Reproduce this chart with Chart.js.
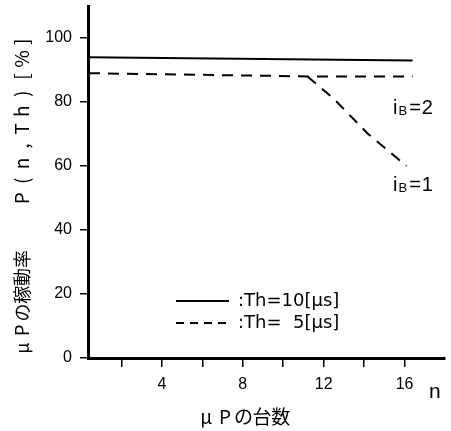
<!DOCTYPE html>
<html>
<head>
<meta charset="utf-8">
<script src="https://cdn.jsdelivr.net/npm/chart.js@4.4.0/dist/chart.umd.min.js"></script>
<style>
  html, body { margin: 0; padding: 0; background: #fff; }
</style>
</head>
<body>
<canvas id="utilChart" width="451" height="431"></canvas>
<script>
// tick positions
const nTicks = [2, 4, 6, 8, 10, 12, 14, 16];
const pTicks = [0, 20, 40, 60, 80, 100];

// Th = 10 us
const n10 = [0.4, 16.4];
const p10 = [94, 93];
// Th = 5 us, iB = 2
const n5b2 = [0.4, 11.2, 16.4];
const p5b2 = [89, 88, 88];
// Th = 5 us, iB = 1
const n5b1 = [11.2, 12.5, 14.2, 16.1];
const p5b1 = [88, 81, 70, 60];

const thLabels = [':Th=10[\u03bcs]', ':Th=\u20075[\u03bcs]'];
const yTitle = ['\u03bcP\u306e\u7a3c\u52d5\u7387', 'P(n,Th)[%]'];
const xTitle = '\u03bcP\u306e\u53f0\u6570';

const zip = (xs, ys) => xs.map((x, i) => ({ x: x, y: ys[i] }));

const DASH = [11, 8];

// one glyph per fixed step, like typewriter spacing
function spaced(ctx, text, x0, y, step) {
    [...text].forEach((ch, i) => ctx.fillText(ch, x0 + step * (i + 0.5), y));
}

// labels, legend and axis titles
const annotate = {
    id: 'annotate',
    afterDraw(chart) {
        const { ctx, scales: { x, y } } = chart;
        ctx.save();
        ctx.fillStyle = '#000';
        ctx.strokeStyle = '#000';
        ctx.textBaseline = 'middle';

        // iB labels next to the line ends
        const ib = (n, p, v) => {
            let px = x.getPixelForValue(n);
            const py = y.getPixelForValue(p);
            ctx.textAlign = 'left';
            ctx.font = '20px "Liberation Sans"';
            ctx.fillText('i', px, py);
            px += ctx.measureText('i').width + 1;
            ctx.font = '13px "Liberation Sans"';
            ctx.fillText('B', px, py + 3);
            px += ctx.measureText('B').width + 2;
            ctx.font = '20px "Liberation Sans"';
            ctx.fillText('=', px, py);
            px += ctx.measureText('=').width + 1;
            ctx.fillText(v, px, py);
        };
        ib(15.43, 78, '2');
        ib(15.43, 54, '1');

        // legend
        ctx.lineWidth = 1.8;
        ctx.beginPath();
        ctx.moveTo(176, 301);
        ctx.lineTo(229, 301);
        ctx.stroke();
        ctx.setLineDash([8, 6]);
        ctx.beginPath();
        ctx.moveTo(176, 323);
        ctx.lineTo(229, 323);
        ctx.stroke();
        ctx.setLineDash([]);
        ctx.font = '18px "DejaVu Sans"';
        ctx.textAlign = 'left';
        ctx.fillText(thLabels[0], 238, 301);
        ctx.fillText(thLabels[1], 238, 323);

        // axis titles
        ctx.font = '21px "Liberation Sans"';
        ctx.fillText('n', 429, 392);
        ctx.textAlign = 'center';
        ctx.font = '19px "Noto Sans CJK JP"';
        spaced(ctx, xTitle, 197, 417, 18.6);
        ctx.translate(22, 0);
        ctx.rotate(-Math.PI / 2);
        ctx.font = '18px "Noto Sans CJK JP"';
        spaced(ctx, yTitle[0], -357, 0, 17.8);
        ctx.font = '19px "Noto Sans CJK JP"';
        spaced(ctx, yTitle[1], -207, 0, 17.4);
        ctx.restore();
    }
};

const ctx = document.getElementById('utilChart').getContext('2d');
new Chart(ctx, {
    type: 'line',
    data: {
        datasets: [
            {
                label: thLabels[0],
                data: zip(n10, p10),
                borderColor: '#000',
                borderWidth: 2,
            },
            {
                label: thLabels[1],
                data: zip(n5b2, p5b2),
                borderColor: '#000',
                borderWidth: 2,
                borderDash: DASH,
            },
            {
                label: thLabels[1],
                data: zip(n5b1, p5b1),
                borderColor: '#000',
                borderWidth: 2,
                borderDash: DASH,
            },
        ],
    },
    options: {
        responsive: false,
        animation: false,
        events: [],
        elements: { point: { radius: 0 }, line: { tension: 0 } },
        layout: { padding: { top: 6, right: 6, left: 0, bottom: 0 } },
        plugins: {
            legend: { display: false },
            tooltip: { enabled: false },
        },
        scales: {
            x: {
                type: 'linear',
                min: 0.35,
                max: 18,
                afterBuildTicks: (s) => { s.ticks = nTicks.map((v) => ({ value: v })); },
                afterFit: (s) => { s.height = 73; s.paddingLeft = 0; s.paddingRight = 0; },
                border: { display: true, color: '#000', width: 3 },
                grid: { drawOnChartArea: false, drawTicks: true, tickLength: 9, color: '#000', lineWidth: 1.5 },
                ticks: {
                    color: '#000',
                    padding: 8,
                    maxRotation: 0,
                    autoSkip: false,
                    font: { family: '"Liberation Sans"', size: 16 },
                    callback: (v) => (v % 4 === 0 ? String(v) : ''),
                },
            },
            y: {
                min: 0,
                max: 110,
                afterBuildTicks: (s) => { s.ticks = pTicks.map((v) => ({ value: v })); },
                afterFit: (s) => { s.width = 88; s.paddingTop = 0; s.paddingBottom = 0; },
                border: { display: true, color: '#000', width: 3 },
                grid: { drawOnChartArea: false, drawTicks: true, tickLength: 8, color: '#000', lineWidth: 1.5 },
                ticks: {
                    color: '#000',
                    padding: 8,
                    autoSkip: false,
                    font: { family: '"Liberation Sans"', size: 16 },
                },
            },
        },
    },
    plugins: [annotate],
});
</script>
</body>
</html>
